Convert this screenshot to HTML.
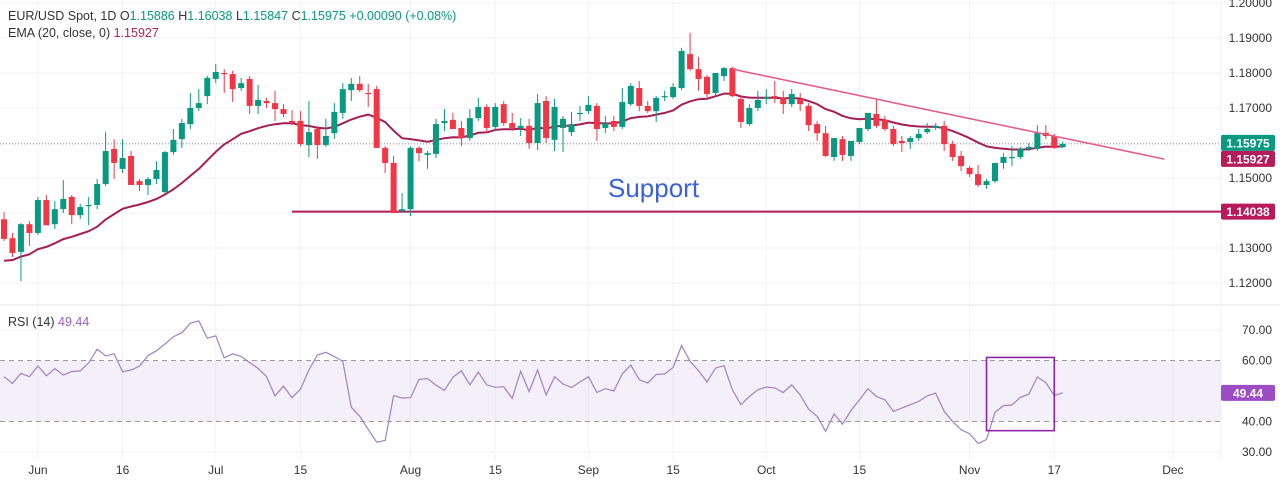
<!DOCTYPE html>
<html><head><meta charset="utf-8"><style>
html,body{margin:0;padding:0;background:#fff;}
body{width:1280px;height:486px;overflow:hidden;font-family:"Liberation Sans",sans-serif;}
svg text{font-family:"Liberation Sans",sans-serif;}
</style></head><body>
<svg id="chart" width="1280" height="486" viewBox="0 0 1280 486" xmlns="http://www.w3.org/2000/svg">
<g id="grid"></g>
<g id="price"></g>
<g id="rsi"></g>
<g id="axes"></g>
<text x="608" y="197" font-size="26" fill="#3b62d8">Support</text>
<g font-size="12.5" fill="#333">
<text x="8" y="20">EUR/USD Spot, 1D <tspan fill="#333">O</tspan><tspan fill="#089981">1.15886</tspan> <tspan fill="#333">H</tspan><tspan fill="#089981">1.16038</tspan> <tspan fill="#333">L</tspan><tspan fill="#089981">1.15847</tspan> <tspan fill="#333">C</tspan><tspan fill="#089981">1.15975 +0.00090 (+0.08%)</tspan></text>
<text x="8" y="37">EMA (20, close, 0) <tspan fill="#b2245a">1.15927</tspan></text>
<text x="8" y="326">RSI (14) <tspan fill="#9c5fc0">49.44</tspan></text>
</g>
</svg>
<script>
const opens=[1.1382,1.1328,1.1289,1.1368,1.1343,1.1437,1.1368,1.1411,1.1446,1.1394,1.1420,1.1423,1.1483,1.1583,1.1526,1.1563,1.1491,1.1480,1.1497,1.1460,1.1574,1.1611,1.1654,1.1700,1.1734,1.1783,1.1800,1.1797,1.1757,1.1783,1.1706,1.1720,1.1714,1.1697,1.1663,1.1663,1.1594,1.1640,1.1594,1.1628,1.1686,1.1751,1.1769,1.1743,1.1754,1.1586,1.1543,1.1406,1.1411,1.1586,1.1566,1.1569,1.1657,1.1666,1.1643,1.1614,1.1671,1.1703,1.1646,1.1711,1.1657,1.1643,1.1649,1.1600,1.1720,1.1609,1.1643,1.1631,1.1683,1.1691,1.1706,1.1643,1.1663,1.1646,1.1711,1.1757,1.1706,1.1691,1.1731,1.1731,1.1757,1.1854,1.1811,1.1789,1.1743,1.1791,1.1814,1.1726,1.1654,1.1700,1.1726,1.1734,1.1729,1.1711,1.1726,1.1706,1.1654,1.1628,1.1560,1.1611,1.1563,1.1603,1.1640,1.1683,1.1666,1.1640,1.1606,1.1603,1.1614,1.1631,1.1643,1.1649,1.1597,1.1563,1.1529,1.1511,1.1480,1.1491,1.1543,1.1557,1.1560,1.1583,1.1583,1.1629,1.1620,1.15886];
const highs=[1.1402,1.1343,1.1371,1.1377,1.1446,1.1451,1.1434,1.1494,1.1451,1.1426,1.1446,1.1497,1.1631,1.1611,1.1611,1.1577,1.1497,1.1503,1.1548,1.1577,1.1640,1.1669,1.1743,1.1754,1.1792,1.1826,1.1811,1.1806,1.1786,1.1791,1.1766,1.1729,1.1749,1.1711,1.1694,1.1691,1.1720,1.1649,1.1669,1.1714,1.1771,1.1786,1.1791,1.1769,1.1763,1.1591,1.1563,1.1457,1.1591,1.1591,1.1577,1.1669,1.1697,1.1686,1.1663,1.1697,1.1729,1.1711,1.1714,1.1720,1.1686,1.1671,1.1669,1.1740,1.1734,1.1726,1.1677,1.1689,1.1706,1.1734,1.1714,1.1677,1.1677,1.1757,1.1771,1.1777,1.1720,1.1734,1.1749,1.1771,1.1872,1.1915,1.1846,1.1794,1.1800,1.1817,1.1817,1.1734,1.1711,1.1749,1.1754,1.1777,1.1749,1.1754,1.1743,1.1714,1.1663,1.1649,1.1614,1.1620,1.1577,1.1620,1.1686,1.1726,1.1677,1.1649,1.1620,1.1620,1.1640,1.1657,1.1657,1.1663,1.1606,1.1577,1.1534,1.1537,1.1497,1.1543,1.1571,1.1591,1.1589,1.1600,1.1651,1.1651,1.1626,1.16038];
const lows=[1.1320,1.1274,1.1205,1.1306,1.1337,1.1365,1.1354,1.1400,1.1368,1.1383,1.1365,1.1411,1.1477,1.1497,1.1514,1.1480,1.1463,1.1451,1.1483,1.1454,1.1566,1.1586,1.1640,1.1691,1.1711,1.1771,1.1743,1.1717,1.1749,1.1683,1.1683,1.1700,1.1663,1.1674,1.1651,1.1591,1.1560,1.1554,1.1589,1.1611,1.1669,1.1720,1.1746,1.1703,1.1586,1.1514,1.1400,1.1400,1.1391,1.1548,1.1526,1.1557,1.1634,1.1640,1.1591,1.1606,1.1663,1.1628,1.1634,1.1649,1.1634,1.1620,1.1583,1.1580,1.1600,1.1577,1.1574,1.1620,1.1663,1.1683,1.1606,1.1628,1.1634,1.1640,1.1706,1.1691,1.1686,1.1660,1.1720,1.1726,1.1751,1.1806,1.1749,1.1731,1.1731,1.1777,1.1731,1.1643,1.1649,1.1691,1.1711,1.1714,1.1683,1.1703,1.1691,1.1634,1.1606,1.1560,1.1549,1.1549,1.1549,1.1597,1.1634,1.1643,1.1634,1.1591,1.1574,1.1583,1.1606,1.1626,1.1637,1.1577,1.1549,1.1520,1.1503,1.1474,1.1469,1.1486,1.1526,1.1534,1.1554,1.1577,1.1577,1.1611,1.1583,1.15847];
const closes=[1.1326,1.1286,1.1368,1.1343,1.1437,1.1365,1.1411,1.1440,1.1394,1.1417,1.1423,1.1483,1.1577,1.1543,1.1557,1.1480,1.1480,1.1497,1.1523,1.1574,1.1609,1.1657,1.1700,1.1714,1.1786,1.1803,1.1797,1.1754,1.1771,1.1706,1.1723,1.1714,1.1697,1.1683,1.1657,1.1597,1.1631,1.1594,1.1620,1.1689,1.1754,1.1769,1.1751,1.1740,1.1586,1.1543,1.1400,1.1411,1.1586,1.1571,1.1571,1.1654,1.1663,1.1640,1.1614,1.1671,1.1703,1.1643,1.1703,1.1657,1.1643,1.1649,1.1600,1.1714,1.1614,1.1703,1.1669,1.1654,1.1686,1.1709,1.1640,1.1657,1.1646,1.1717,1.1763,1.1706,1.1691,1.1729,1.1734,1.1760,1.1863,1.1811,1.1783,1.1740,1.1800,1.1814,1.1734,1.1660,1.1700,1.1723,1.1731,1.1729,1.1711,1.1740,1.1711,1.1651,1.1628,1.1563,1.1614,1.1566,1.1606,1.1643,1.1686,1.1649,1.1640,1.1597,1.1600,1.1614,1.1626,1.1640,1.1649,1.1597,1.1560,1.1534,1.1511,1.1480,1.1491,1.1543,1.1560,1.1560,1.1583,1.1589,1.1629,1.1620,1.1586,1.15975];
const emaSeed=1.1257;
const rsiValues=[54.7,52.5,55.8,54.7,58.2,55.0,57.3,55.2,56.4,56.6,59.2,63.7,61.5,62.2,56.3,56.9,58.2,61.6,63.2,65.4,67.8,69.1,72.2,73.0,67.3,68.1,60.9,62.2,61.3,59.3,57.4,54.7,48.4,51.6,47.8,50.6,56.9,61.8,62.7,61.3,59.7,44.7,41.7,37.4,33.2,33.8,48.5,47.7,47.8,53.8,54.1,51.9,50.2,54.5,56.6,52.0,56.2,52.0,51.2,51.4,47.6,56.5,
49.8,56.9,48.7,54.7,52.3,51.1,53.0,54.7,49.5,50.8,50.0,55.6,58.5,53.7,52.6,55.4,55.6,57.7,64.9,59.7,56.7,53.0,57.5,58.3,50.4,45.5,48.2,50.4,51.3,51.0,49.5,52.0,48.7,44.0,41.7,36.8,42.5,39.1,43.6,47.1,50.8,48.2,47.1,43.3,44.4,45.5,46.6,48.4,49.3,43.3,40.0,37.3,36.0,32.8,34.1,43.0,45.2,45.4,47.9,49.0,54.6,52.8,48.5,49.4];
const priceTicks=[1.12,1.13,1.14,1.15,1.16,1.17,1.18,1.19,1.20];
const priceTickLabels=["1.12000","1.13000","1.14000","1.15000","1.16000","1.17000","1.18000","1.19000","1.20000"];
const rsiTicks=[30,40,60,70];
const rsiTickLabels=["30.00","40.00","60.00","70.00"];
const dateTickIdx=[4,14,25,35,48,58,69,79,90,101,114,124,138];
const dateTickLabels=["Jun","16","Jul","15","Aug","15","Sep","15","Oct","15","Nov","17","Dec"];
const trendStart=[86,1.1811];
const trendEnd=[137,1.1554];
const supportLevel=1.14038, supportStartIdx=34;
const lastClose=1.15975;
const rsiBox=[116,124,61,37];

const NS="http://www.w3.org/2000/svg";
const X=i=>4+i*8.47;
const Y=p=>38+(1.19-p)*3500;
const R=v=>391-(v-50)*3.05;
const PR=1221;
function mk(tag,attrs,parent){const e=document.createElementNS(NS,tag);for(const k in attrs)e.setAttribute(k,attrs[k]);parent.appendChild(e);return e;}
const grid=document.getElementById('grid'),price=document.getElementById('price'),rsi=document.getElementById('rsi'),axes=document.getElementById('axes');

priceTicks.forEach(p=>{const l=mk('line',{x1:0,x2:PR,y1:Y(p),y2:Y(p),stroke:'#f0f2f5','stroke-width':1},grid);

});
[30,70].forEach(v=>{const l=mk('line',{x1:0,x2:PR,y1:R(v),y2:R(v),stroke:'#f0f2f5'},grid);

});
dateTickIdx.forEach(i=>{const l=mk('line',{x1:X(i),x2:X(i),y1:0,y2:460,stroke:'#f3f4f7'},grid);

});
const sep=mk('line',{x1:0,x2:1280,y1:305,y2:305,stroke:'#e0e3eb'},grid);


const sep2=mk('line',{x1:PR,x2:PR,y1:0,y2:460,stroke:'#f0f2f5'},grid);



const dl=mk('line',{x1:0,x2:PR,y1:Y(lastClose),y2:Y(lastClose),stroke:'#777','stroke-width':0.8,'stroke-dasharray':'1,2'},price);



const sl=mk('line',{x1:X(supportStartIdx),x2:PR,y1:Y(supportLevel),y2:Y(supportLevel),stroke:'#b8195a','stroke-width':2},price);



let ema=[],e=emaSeed;const k=2/21;
closes.forEach(c=>{e=c*k+e*(1-k);ema.push(e);});
const ep=mk('path',{d:ema.map((v,i)=>(i?'L':'M')+X(i).toFixed(1)+','+Y(v).toFixed(1)).join(''),fill:'none',stroke:'#a61d58','stroke-width':2},price);



closes.forEach((c,i)=>{const o=opens[i],up=c>=o,col=up?'#089981':'#f23645';
const g=mk('g',{},price);


mk('line',{x1:X(i),x2:X(i),y1:Y(highs[i]),y2:Y(lows[i]),stroke:col,'stroke-width':1},g);
const top=Y(Math.max(o,c)),h=Math.max(1.2,Math.abs(Y(o)-Y(c)));
mk('rect',{x:X(i)-3,y:top,width:6,height:h,fill:col},g);});

const tl=mk('line',{x1:X(trendStart[0]),y1:Y(trendStart[1]),x2:X(trendEnd[0]),y2:Y(trendEnd[1]),stroke:'#e35d8c','stroke-width':1.6},price);



const band=mk('rect',{x:0,y:R(60),width:PR,height:R(40)-R(60),fill:'rgba(126,87,194,0.09)'},rsi);


[60,40].forEach(v=>{const l=mk('line',{x1:0,x2:PR,y1:R(v),y2:R(v),stroke:'#9a9a9a','stroke-dasharray':'5,4'},rsi);

});
const rp=mk('path',{d:rsiValues.map((v,i)=>(i?'L':'M')+X(i).toFixed(1)+','+R(v).toFixed(1)).join(''),fill:'none',stroke:'#a57fc4','stroke-width':1.2},rsi);


const rb=mk('rect',{x:X(rsiBox[0]),y:R(rsiBox[2]),width:X(rsiBox[1])-X(rsiBox[0]),height:R(rsiBox[3])-R(rsiBox[2]),fill:'none',stroke:'#8e24aa','stroke-width':1.6},rsi);



priceTicks.forEach((p,j)=>{const t=mk('text',{x:1272,y:Y(p)+4,'text-anchor':'end','font-size':12,fill:'#333'},axes);t.textContent=priceTickLabels[j];

});
rsiTicks.forEach((v,j)=>{const t=mk('text',{x:1272,y:R(v)+4,'text-anchor':'end','font-size':12,fill:'#333'},axes);t.textContent=rsiTickLabels[j];

});
dateTickIdx.forEach((i,j)=>{const t=mk('text',{x:X(i),y:474,'text-anchor':'middle','font-size':12,fill:'#333'},axes);t.textContent=dateTickLabels[j];

});
function badge(val,txt,col,name,yc){const g=mk('g',{},axes);


mk('rect',{x:PR,y:yc-8,width:54,height:16,rx:2,fill:col},g);
const t=mk('text',{x:1248,y:yc+4.5,'text-anchor':'middle','font-size':12,fill:'#fff','font-weight':'bold'},g);t.textContent=txt;}
badge(lastClose,'1.15975','#089981','last-price-badge',Y(lastClose)-1);
badge(ema[ema.length-1],'1.15927','#b51c5a','ema-badge',Y(lastClose)+15);
badge(supportLevel,'1.14038','#b8195a','support-badge',Y(supportLevel));
badge(0,'49.44','#9c4dc6','rsi-badge',R(rsiValues[rsiValues.length-1]));
</script>
</body></html>
